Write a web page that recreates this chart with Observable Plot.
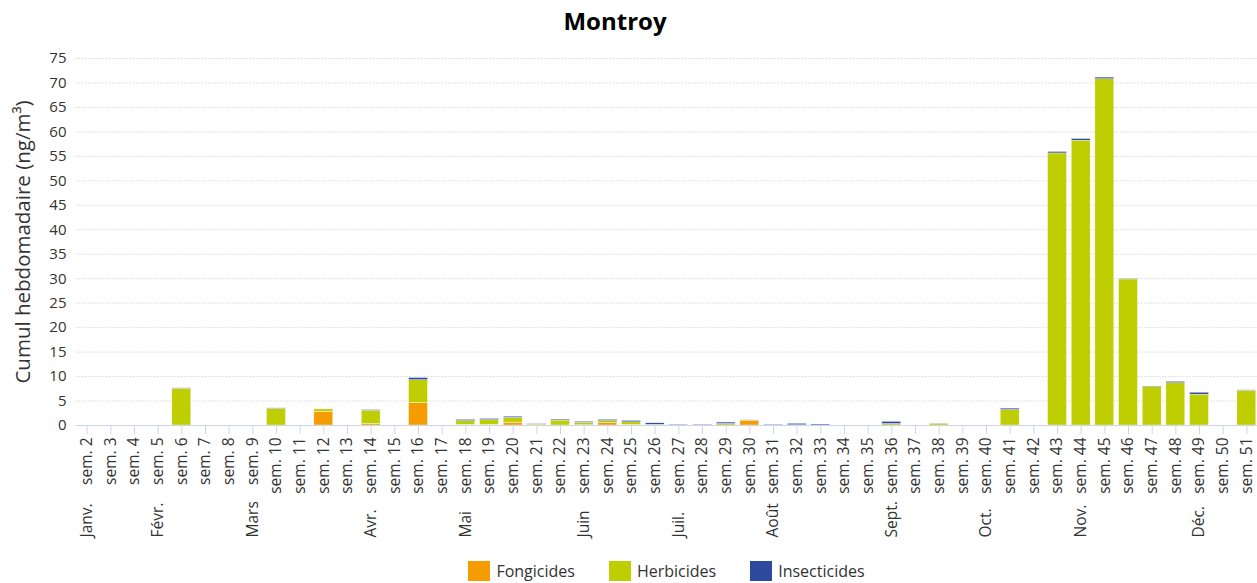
<!DOCTYPE html>
<html>
<head>
<meta charset="utf-8">
<script src="https://cdn.jsdelivr.net/npm/d3@7"></script>
<script src="https://cdn.jsdelivr.net/npm/@observablehq/plot@0.6"></script>
<style>
  html, body { margin: 0; padding: 0; background: #fff; font-family: "Open Sans", sans-serif; overflow: hidden; }
  #title { height: 40px; line-height: 42px; text-align: center; width: 1230px; font-weight: bold; font-size: 24px; color: #000; }
  #legend { display: flex; justify-content: center; align-items: center; padding-left: 76px; margin-top: 10px; font-size: 16px; color: #333; }
  .item { display: flex; align-items: center; margin: 0 17px; }
  .sw { width: 22px; height: 20px; margin-right: 6px; }
</style>
</head>
<body>
<div id="title">Montroy</div>
<div id="chart"></div>
<div id="legend"></div>
<script>
const weeks = ["sem. 2","sem. 3","sem. 4","sem. 5","sem. 6","sem. 7","sem. 8","sem. 9","sem. 10","sem. 11",
  "sem. 12","sem. 13","sem. 14","sem. 15","sem. 16","sem. 17","sem. 18","sem. 19","sem. 20","sem. 21",
  "sem. 22","sem. 23","sem. 24","sem. 25","sem. 26","sem. 27","sem. 28","sem. 29","sem. 30","sem. 31",
  "sem. 32","sem. 33","sem. 34","sem. 35","sem. 36","sem. 37","sem. 38","sem. 39","sem. 40","sem. 41",
  "sem. 42","sem. 43","sem. 44","sem. 45","sem. 46","sem. 47","sem. 48","sem. 49","sem. 50","sem. 51"];

// values per week (sem. 2 ... sem. 51)
const fongicides = [0,0,0,0,0,0,0,0,0,0,
  2.8,0,0.3,0,4.6,0,0.15,0.15,0.55,0,
  0,0.05,0.45,0.1,0,0,0,0,1.0,0,
  0,0,0,0,0,0,0,0,0,0,
  0,0,0,0,0,0,0,0,0,0];
const herbicides = [0,0,0,0,7.5,0,0,0,3.4,0,
  0.5,0,2.7,0,4.65,0,0.75,0.95,1.0,0.2,
  1.0,0.5,0.45,0.55,0.15,0,0,0.3,0.05,0,
  0.05,0,0,0,0.3,0,0.35,0,0,3.15,
  0,55.6,58.2,70.75,29.85,7.85,8.65,6.3,0,7.1];
const insecticides = [0,0,0,0,0.1,0,0,0,0.1,0,
  0.05,0,0.15,0,0.45,0,0.25,0.25,0.25,0.1,
  0.2,0.2,0.25,0.3,0.3,0.15,0.15,0.3,0.1,0.15,
  0.3,0.2,0,0,0.45,0,0.05,0,0,0.3,
  0,0.3,0.35,0.35,0.15,0.12,0.28,0.4,0,0.1];

const types = ["Fongicides","Herbicides","Insecticides"];
const colors = ["#f59c00","#bfce00","#2e4a9e"];

const monthLabels = ["Janv.","Févr.","Mars","Avr.","Mai","Juin","Juil.","Août","Sept.","Oct.","Nov.","Déc."];
const monthWeeks = ["sem. 2","sem. 5","sem. 9","sem. 14","sem. 18","sem. 23","sem. 27","sem. 31","sem. 36","sem. 40","sem. 44","sem. 49"];

const yTicks = [0,5,10,15,20,25,30,35,40,45,50,55,60,65,70,75];
const yLabel = "Cumul hebdomadaire (ng/m³)";

const series = [fongicides, herbicides, insecticides];
const rows = [];
weeks.forEach((w, i) => {
  types.forEach((t, j) => rows.push({week: w, type: t, value: series[j][i]}));
});

const chart = Plot.plot({
  width: 1257,
  height: 510,
  marginTop: 18,
  marginBottom: 125,
  marginLeft: 76,
  marginRight: 0,
  style: {fontFamily: "'Open Sans', sans-serif", color: "#333", background: "#fff"},
  x: {domain: weeks, paddingInner: 0.2, paddingOuter: 0.05, round: false, label: null},
  y: {domain: [0, 75], label: null},
  color: {domain: types, range: colors},
  marks: [
    Plot.gridY(yTicks.filter(d => d > 0), {stroke: "#d8d8d8", strokeOpacity: 1, strokeDasharray: "1.5,1.5"}),
    Plot.barY(rows, {x: "week", y: "value", fill: "type", stroke: "#fff", strokeWidth: 0.4}),
    Plot.ruleY([0], {stroke: "#ccd6eb"}),
    Plot.axisY(yTicks, {tickSize: 0, tickPadding: 10, fontSize: 15, label: null, fill: "#333"}),
    Plot.axisX({tickRotate: -90, tickSize: 9, tickPadding: 3, fontSize: 15.5, label: null, stroke: "#ccd6eb", fill: "#333"}),
    Plot.text(monthWeeks, {x: d => d, text: (d, i) => monthLabels[i], frameAnchor: "bottom", dy: 112, rotate: -90, textAnchor: "start", lineAnchor: "middle", fontSize: 15.5, fill: "#333"}),
    Plot.text([yLabel], {frameAnchor: "left", dx: -53, rotate: -90, textAnchor: "middle", lineAnchor: "middle", fontSize: 20.5, fill: "#333"})
  ]
});
document.getElementById("chart").appendChild(chart);

const legend = document.getElementById("legend");
types.forEach((t, i) => {
  const item = document.createElement("div");
  item.className = "item";
  item.innerHTML = `<div class="sw" style="background:${colors[i]}"></div><span>${t}</span>`;
  legend.appendChild(item);
});
</script>
</body>
</html>
